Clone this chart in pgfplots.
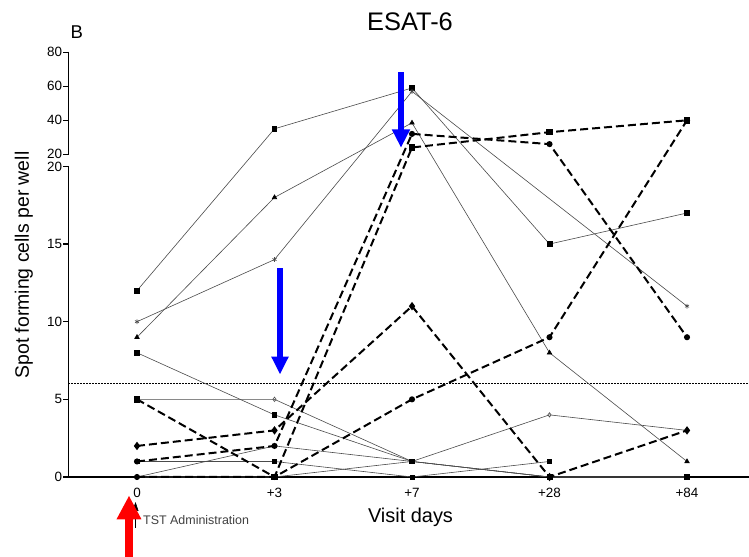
\documentclass[border=0pt]{standalone}
\usepackage{fontspec}
\setmainfont{Liberation Sans}
\usepackage{pgfplots}
\pgfplotsset{compat=1.18}
\usetikzlibrary{arrows.meta}
\definecolor{thin}{HTML}{4A4A4A}
\begin{document}
\begin{tikzpicture}[x=1bp,y=1bp]
\path[use as bounding box] (-137,-80) rectangle (612,477);
\begin{axis}[
  at={(0,0)}, anchor=origin,
  x=137.5bp, y=1bp,
  xmin=-0.5, xmax=4.45, ymin=0, ymax=424.7,
  clip=false,
  axis x line=bottom, axis y line=left,
  axis line style={-, line width=1.2bp, black},
  y axis line style={draw=none},
  tick align=outside,
  major tick length=5bp,
  ytick={0,77.65,155.3,232.95,310.6,322.7,356.7,390.7,424.7},
  yticklabels={0,5,10,15,20,20,40,60,80},
  ytick style={line width=1.2bp, black},
  xtick={0,1,2,3,4},
  xticklabels={0,+3,+7,+28,+84},
  xtick style={draw=none},
  tick label style={font=\fontsize{13.5}{15}\selectfont},
  yticklabel style={inner xsep=1bp},
  xticklabel style={yshift=-3bp},
  y filter/.expression={y<=20 ? 15.53*y : 322.7+1.7*(y-20)},
  thinline/.style={color=thin, line width=0.6bp, mark options={solid, fill=black, draw=black}},
  dashline/.style={black, line width=2bp, dash pattern=on 8bp off 4bp, mark options={solid, fill=black, draw=black}},
]
% threshold
\addplot[black, line width=1bp, dash pattern=on 1.5bp off 1.5bp] coordinates {(-0.5,6) (4.45,6)};
% thin series
\addplot[thinline, mark=square*, mark size=2.3] coordinates {(0,12) (1,35) (2,59) (3,15) (4,17)};
\addplot[thinline, mark=triangle*, mark size=2.6] coordinates {(0,9) (1,18) (2,38.5) (3,8) (4,1)};
\addplot[thinline, mark=asterisk, mark size=2.4, mark options={solid, draw=thin}] coordinates {(0,10) (1,14) (2,57) (4,11)};
\addplot[thinline, mark=square*, mark size=2.3] coordinates {(0,8) (1,4) (2,1) (3,0) (4,0)};
\addplot[thinline, mark=diamond, mark size=2.2, mark options={solid, fill=white, draw=thin}] coordinates {(0,5) (1,5) (2,1) (3,4) (4,3)};
\addplot[thinline, mark=square*, mark size=2.1] coordinates {(0,1) (1,1) (2,0) (3,1)};
\addplot[thinline, mark=*, mark size=2] coordinates {(0,0) (1,2) (2,1) (3,0) (4,0)};
\addplot[thinline, mark=*, mark size=2] coordinates {(0,0) (1,0) (2,1) (3,0) (4,0)};
% dashed series
\addplot[dashline, mark=square*, mark size=2.3] coordinates {(0,5) (1,0) (2,24) (3,33) (4,40)};
\addplot[dashline, mark=diamond*, mark size=2.6] coordinates {(0,2) (1,3) (2,11) (3,0) (4,3)};
\addplot[dashline, mark=*, mark size=2] coordinates {(0,1) (1,2) (2,32) (3,26) (4,9)};
\addplot[dashline, mark=*, mark size=2] coordinates {(0,0) (1,0) (2,5) (3,9) (4,40)};
\end{axis}
\begin{scope}[shift={(-137,477)}, yscale=-1]
  \draw[line width=1.2bp] (68.25,51.7) -- (68.25,154.9);
  \draw[line width=1.2bp] (68.25,165.8) -- (68.25,477.6);
  % blue arrows
  \fill[blue] (398.2,72.3) rectangle (403.8,130);
  \fill[blue] (391.7,129.3) -- (410.3,129.3) -- (401,147.3) -- cycle;
  \fill[blue] (277.2,268) rectangle (282.8,357);
  \fill[blue] (271.2,356.7) -- (288.8,356.7) -- (280,374) -- cycle;
  % TST arrow
  \draw[line width=0.6bp, -{Triangle[length=9bp,width=6bp]}] (135.5,528) -- (135.5,502);
  \fill[red] (124.8,519) rectangle (133.2,557);
  \fill[red] (116.5,519.3) -- (141.5,519.3) -- (129,496) -- cycle;
  \node[font=\fontsize{12.5}{14}\selectfont, text=black!75, anchor=base west, inner sep=0] at (143,524.5) {TST Administration};
  % labels
  \node[font=\fontsize{20}{24}\selectfont, anchor=base, inner sep=0] at (410.5,522.6) {Visit days};
  \node[font=\fontsize{19.5}{23}\selectfont, anchor=base, rotate=90, inner sep=0] at (29,265) {Spot forming cells per well};
  \node[font=\fontsize{25.5}{30}\selectfont, anchor=base, inner sep=0] at (410,30.5) {ESAT-6};
  \node[font=\fontsize{18.6}{22}\selectfont, anchor=base west, inner sep=0] at (70.5,38.3) {B};
\end{scope}
\end{tikzpicture}
\end{document}
